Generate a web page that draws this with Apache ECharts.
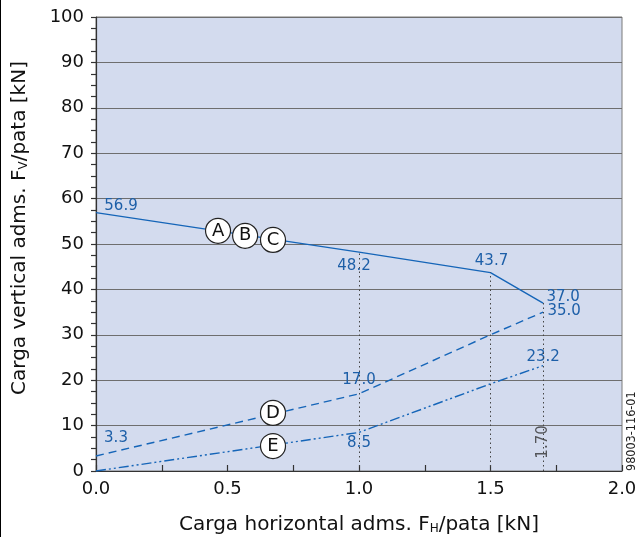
<!DOCTYPE html>
<html>
<head>
<meta charset="utf-8">
<script src="https://cdn.jsdelivr.net/npm/echarts@6/dist/echarts.min.js"></script>
<style>
  html, body { margin: 0; padding: 0; background: #fff; }
  #chart { width: 637px; height: 537px; border-left: 1px solid #000; box-sizing: border-box; }
</style>
</head>
<body>
<div id="chart"></div>
<script>
// Horizontal load per leg [kN]
const loadH = [0.0, 1.0, 1.5, 1.7];
// Allowed vertical load per leg [kN] for each configuration
const seriesABC = [56.9, 48.2, 43.7, 37.0];
const seriesD = [3.3, 17.0, 30.0, 35.0];
const seriesE = [0.0, 8.5, 19.2, 23.2];
// Which points carry a printed value
const showABC = [true, true, true, true];
const showD = [true, true, false, true];
const showE = [false, true, false, true];
// Reference verticals at these horizontal loads, up to the ABC curve
const refLoads = [1.0, 1.5, 1.7];
const refTops = [48.2, 43.7, 37.0];
// Circled curve identifiers and where they sit
const tagNames = ['A', 'B', 'C', 'D', 'E'];
const tagX = [0.464, 0.567, 0.673, 0.673, 0.673];
const tagY = [52.9, 51.8, 50.9, 12.8, 5.5];
// Axis tick values
const xTicks = [0.0, 0.5, 1.0, 1.5, 2.0];
const yTicks = [0, 10, 20, 30, 40, 50, 60, 70, 80, 90, 100];

const BLUE = '#1565b8';
const LABEL_BLUE = '#1d5fa8';
const FONT = 'DejaVu Sans, sans-serif';

// label offsets (pixels) for each printed value
const offABC = [[25, -7], [-5, 14], [1, -11], [20, -6]];
const offD = [[20, -18], [0, -14], null, [21, -1]];
const offE = [null, [0, 11], null, [0, -9]];

function points(vals, show, offs) {
  return loadH.map((x, i) => ({
    value: [x, vals[i]],
    label: show[i] ? {
      show: true,
      position: 'inside',
      offset: offs[i],
      formatter: vals[i].toFixed(1),
      color: LABEL_BLUE,
      fontSize: 15,
      fontFamily: FONT
    } : { show: false }
  }));
}

const titleRich = {
  a: { fontSize: 20, fontFamily: FONT, color: '#111' },
  s: { fontSize: 12, fontFamily: FONT, color: '#111', verticalAlign: 'bottom', padding: [9, 0, 0, 0] }
};

const chart = echarts.init(document.getElementById('chart'), null, { renderer: 'canvas' });

chart.setOption({
  animation: false,
  grid: {
    left: 95, right: 15, top: 17, bottom: 66,
    containLabel: false, outerBoundsMode: 'none',
    show: true, backgroundColor: '#d3dbee', borderColor: '#7a7a7a', borderWidth: 1
  },
  xAxis: {
    type: 'value', min: xTicks[0], max: xTicks[xTicks.length - 1], interval: 0.5,
    name: '{a|Carga horizontal adms. F}{s|H}{a|/pata [kN]}',
    nameLocation: 'middle', nameGap: 43,
    nameTextStyle: { color: '#111', fontSize: 20, fontFamily: FONT, rich: titleRich },
    axisLine: { show: true, lineStyle: { color: '#333', width: 1.2 } },
    axisTick: { show: true, inside: true, length: 6, lineStyle: { color: '#333', width: 1.2 } },
    minorTick: { show: true, splitNumber: 2, length: 6, lineStyle: { color: '#333', width: 1.2 } },
    splitLine: { show: false },
    axisLabel: { color: '#111', fontSize: 18, fontFamily: FONT, margin: 9, formatter: v => v.toFixed(1) }
  },
  yAxis: {
    type: 'value', min: yTicks[0], max: yTicks[yTicks.length - 1], interval: 10,
    name: '{a|Carga vertical adms. F}{s|V}{a|/pata [kN]}',
    nameLocation: 'middle', nameGap: 66, nameRotate: 90,
    nameTextStyle: { color: '#111', fontSize: 20, fontFamily: FONT, rich: titleRich, padding: [0, 0, 0, 32] },
    axisLine: { show: true, lineStyle: { color: '#333', width: 1.2 } },
    axisTick: { show: true, length: 5, lineStyle: { color: '#333', width: 1.2 } },
    minorTick: { show: true, splitNumber: 4, length: 5, lineStyle: { color: '#333', width: 1.2 } },
    splitLine: { show: true, lineStyle: { color: '#6e6e6e', width: 1 } },
    axisLabel: { color: '#111', fontSize: 18, fontFamily: FONT, margin: 12 }
  },
  series: [
    {
      name: 'ABC', type: 'line', data: points(seriesABC, showABC, offABC),
      symbol: 'circle', symbolSize: 0, lineStyle: { color: BLUE, width: 1.4, type: 'solid' }, z: 4,
      markLine: {
        silent: true, symbol: 'none',
        lineStyle: { color: '#444', width: 1, type: [1.5, 3] },
        label: { show: false },
        data: refLoads.map((x, i) => [{ coord: [x, 0] }, { coord: [x, refTops[i]] }])
      }
    },
    {
      name: 'D', type: 'line', data: points(seriesD, showD, offD),
      symbol: 'circle', symbolSize: 0, lineStyle: { color: BLUE, width: 1.4, type: [8, 5] }, z: 4
    },
    {
      name: 'E', type: 'line', data: points(seriesE, showE, offE),
      symbol: 'circle', symbolSize: 0, lineStyle: { color: BLUE, width: 1.4, type: [10, 3, 2, 3, 2, 3] }, z: 4
    },
    {
      name: 'ref', type: 'scatter', symbol: 'circle', symbolSize: 0, z: 5,
      data: [[refLoads[2], 6.4]],
      label: {
        show: true, position: 'inside', rotate: 90, formatter: refLoads[2].toFixed(2),
        color: '#333', fontSize: 15, fontFamily: FONT
      }
    },
    {
      name: 'tags', type: 'scatter', symbol: 'circle', symbolSize: 25, z: 6,
      itemStyle: { color: '#fff', borderColor: '#222', borderWidth: 1.2, opacity: 1 },
      emphasis: { disabled: true },
      data: tagNames.map((n, i) => ({ value: [tagX[i], tagY[i]], name: n })),
      label: {
        show: true, position: 'inside', formatter: p => p.name,
        color: '#111', fontSize: 18, fontFamily: FONT
      }
    }
  ],
  graphic: [{
    type: 'text', x: 637, y: 471, rotation: Math.PI / 2,
    style: {
      text: '98003-116-01', fill: '#222', align: 'left', verticalAlign: 'bottom',
      font: '12.5px "DejaVu Sans Condensed", sans-serif'
    }
  }]
});
</script>
</body>
</html>
